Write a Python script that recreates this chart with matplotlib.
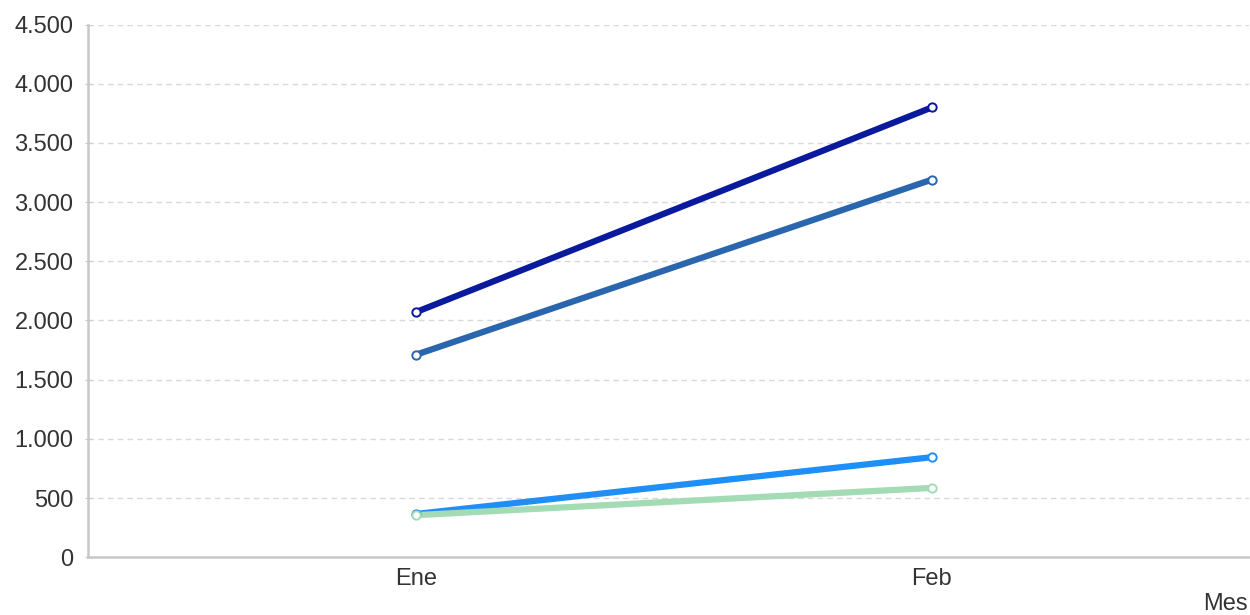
import numpy as np
import matplotlib.pyplot as plt
from matplotlib.ticker import FuncFormatter

meses = ["Ene", "Feb"]
serie_a = [2070, 3800]
serie_b = [1710, 3190]
serie_c = [365, 845]
serie_d = [355, 585]

colores = ["#0a1a9c", "#2a66ad", "#1f8ff5", "#a3dbb5"]

plt.rcParams["font.family"] = ["Liberation Sans", "DejaVu Sans"]

fig = plt.figure(figsize=(12.5, 6.15), dpi=100)
ax = fig.add_axes([0.0704, 0.094, 0.929, 0.866])

x = np.arange(len(meses))
for serie, color in zip([serie_a, serie_b, serie_c, serie_d], colores):
    ax.plot(x, serie, color=color, lw=4.5, solid_capstyle="round", zorder=3)
    ax.plot(x, serie, "o", ms=6, mfc="white", mec=color, mew=1.4, zorder=4)

ax.set_xlim(-0.635, 1.615)
ax.set_ylim(0, 4500)
ax.set_yticks(np.arange(0, 4501, 500))
ax.yaxis.set_major_formatter(FuncFormatter(lambda v, p: f"{int(v):,}".replace(",", ".")))
ax.set_xticks(x)
ax.set_xticklabels(meses)

ax.grid(axis="y", color="#d9d9d9", linestyle=(0, (4, 3)), linewidth=1)
ax.set_axisbelow(True)
for s in ["top", "right"]:
    ax.spines[s].set_visible(False)
for s in ["left", "bottom"]:
    ax.spines[s].set_color("#c8c8c8")
    ax.spines[s].set_linewidth(1.8)

ax.tick_params(axis="y", colors="#c8c8c8", labelcolor="#333333", labelsize=17, length=5, direction="inout", pad=8)
ax.tick_params(axis="x", length=0, labelcolor="#333333", labelsize=17, pad=8)

fig.text(0.998, 0.0, "Mes", ha="right", va="bottom", fontsize=17, color="#333333")

fig.savefig("out.png", dpi=100)
